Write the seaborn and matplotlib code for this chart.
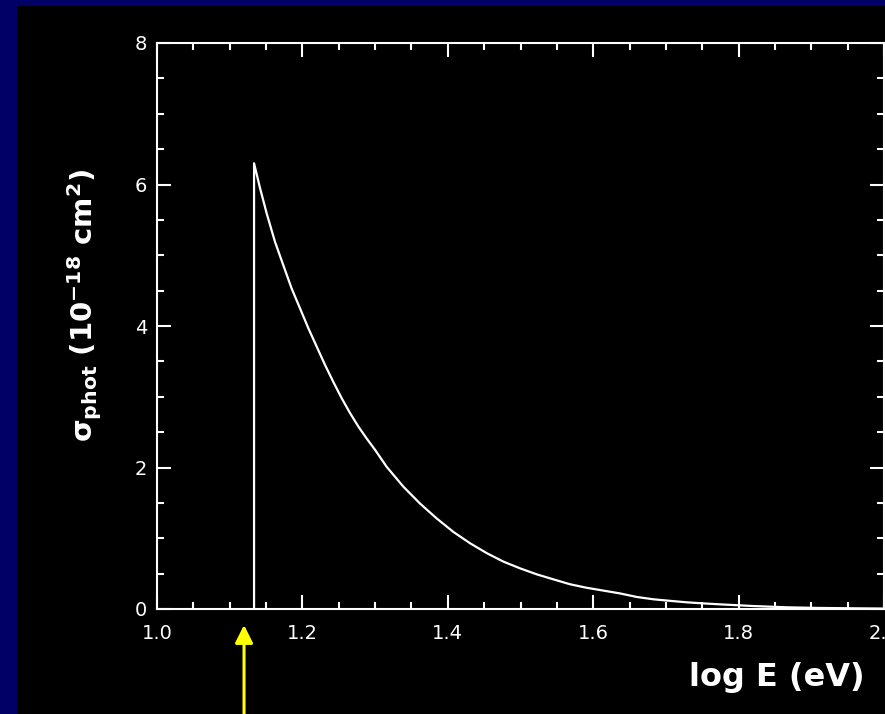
import matplotlib
matplotlib.use("Agg")
import matplotlib.pyplot as plt
import matplotlib.patches as mpatches
from matplotlib.ticker import MultipleLocator, FormatStrFormatter
import seaborn as sns
import pandas as pd

# Data
log_energy = [1.1335, 1.1335, 1.1417, 1.1509, 1.1623, 1.1737, 1.1852, 1.1967, 1.2081,
              1.2196, 1.2311, 1.2425, 1.254, 1.2655, 1.2769, 1.2884, 1.2999, 1.3159,
              1.3388, 1.3618, 1.3847, 1.4076, 1.4305, 1.4535, 1.4764, 1.4993, 1.5223,
              1.545, 1.568, 1.591, 1.614, 1.637, 1.66, 1.683, 1.706, 1.728, 1.75,
              1.774, 1.82, 1.866, 1.91, 1.957, 2.0]
sigma_phot = [0.0, 6.30, 5.95, 5.59, 5.19, 4.86, 4.53, 4.25, 3.97,
              3.71, 3.45, 3.21, 2.98, 2.77, 2.58, 2.41, 2.25, 2.01,
              1.73, 1.49, 1.28, 1.09, 0.93, 0.79, 0.67, 0.575, 0.49,
              0.42, 0.35, 0.30, 0.26, 0.22, 0.17, 0.137, 0.115, 0.095, 0.08,
              0.066, 0.042, 0.024, 0.015, 0.01, 0.006]
x_major_ticks = [1.0, 1.2, 1.4, 1.6, 1.8, 2.0]
y_major_ticks = [0, 2, 4, 6, 8]
threshold_arrow_x = 1.1197

df = pd.DataFrame({"logE": log_energy, "sigma": sigma_phot})

sns.set_style("ticks")
plt.rcParams["font.family"] = ["DejaVu Sans"]
plt.rcParams["mathtext.fontset"] = "dejavusans"
plt.rcParams["mathtext.default"] = "bf"

W, H = 885, 714
fig = plt.figure(figsize=(W / 100, H / 100), dpi=100, facecolor="#000066")
# black inner panel
fig.patches.append(mpatches.Rectangle((17 / W, 0), 1 - 17 / W, 1 - 6 / H,
                                      transform=fig.transFigure, facecolor="black",
                                      edgecolor="none", zorder=-5))

ax = fig.add_axes([157 / W, 1 - 609 / H, 727 / W, 566 / H])
ax.set_zorder(2)
ax.set_facecolor("black")

sns.lineplot(data=df, x="logE", y="sigma", ax=ax, color="white", linewidth=1.6,
             sort=False, estimator=None)

ax.set_xlim(1.0, 2.0)
ax.set_ylim(0, 8)
ax.set_xticks(x_major_ticks)
ax.set_yticks(y_major_ticks)
ax.xaxis.set_minor_locator(MultipleLocator(0.05))
ax.yaxis.set_minor_locator(MultipleLocator(0.5))
ax.xaxis.set_major_formatter(FormatStrFormatter("%.1f"))
ax.yaxis.set_major_formatter(FormatStrFormatter("%d"))
ax.set_xlabel("")
ax.set_ylabel("")

for s in ax.spines.values():
    s.set_color("white")
    s.set_linewidth(1.5)
    s.set_visible(True)

ax.tick_params(axis="both", which="both", direction="in", colors="white",
               top=True, right=True, width=1.5, labelsize=14)
ax.tick_params(axis="both", which="major", length=10)
ax.tick_params(axis="both", which="minor", length=5)
ax.tick_params(axis="x", which="major", pad=11)
ax.tick_params(axis="y", which="major", pad=7)

fig.text(865 / W, 1 - 686 / H, "log E (eV)", color="white", fontsize=23,
         fontweight="bold", ha="right", va="baseline", zorder=5)
fig.text(85 / W, 1 - 305 / H, r"$\sigma_{phot}$ (10$^{-18}$ cm$^{2}$)", color="white",
         fontsize=21, fontweight="bold", rotation=90, ha="center", va="center", zorder=5)

ax.annotate("", xy=(threshold_arrow_x, -0.226), xycoords="data",
            xytext=(threshold_arrow_x, -1.6), textcoords="data",
            arrowprops=dict(arrowstyle="-|>,head_width=0.3,head_length=0.6",
                            mutation_scale=18, color="#ffff00", lw=2.2,
                            shrinkA=0, shrinkB=0),
            annotation_clip=False)

fig.savefig("out.png", dpi=100, facecolor=fig.get_facecolor())
